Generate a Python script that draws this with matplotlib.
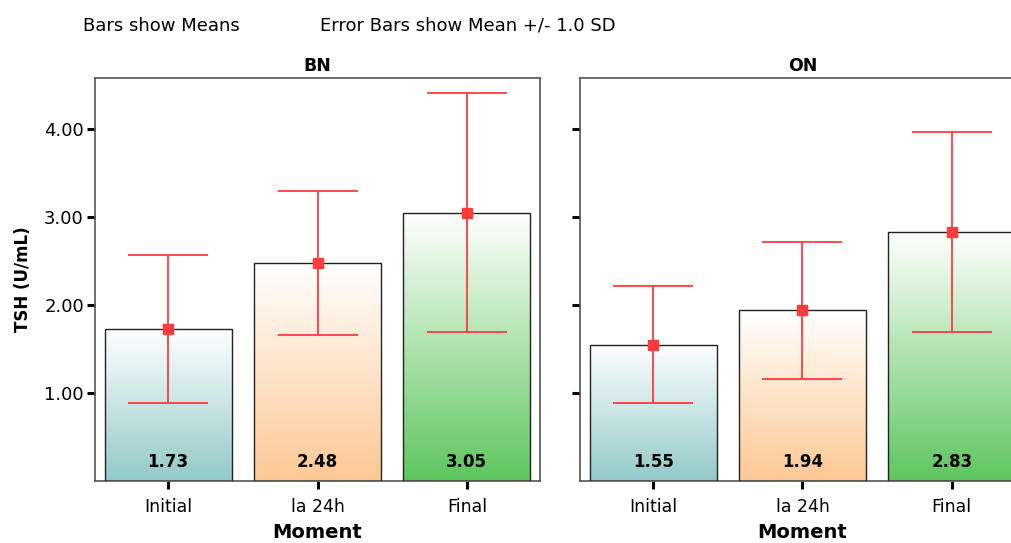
import numpy as np
import matplotlib
matplotlib.use("Agg")
import matplotlib.pyplot as plt
from matplotlib.colors import LinearSegmentedColormap

plt.rcParams['font.family'] = ['DejaVu Sans']

# data
moments = ['Initial', 'la 24h', 'Final']
groups = ['BN', 'ON']
means_bn = [1.73, 2.48, 3.05]
means_on = [1.55, 1.94, 2.83]
sd_bn = [0.84, 0.82, 1.36]
sd_on = [0.665, 0.78, 1.14]
bar_colors = ['#93c9c9', '#fdc894', '#5ec65e']

ERR_COLOR = '#ff3b3b'
FRAME_COLOR = '#555555'

fig = plt.figure(figsize=(10.12, 5.43), dpi=100)
ax_bn = fig.add_axes([0.0939, 0.1142, 0.4397, 0.7422])
ax_on = fig.add_axes([0.5731, 0.1142, 0.4397, 0.7422])


def gradient_bar(ax, x, height, color, width=0.85):
    bar = ax.bar(x, height, width=width, color='none', edgecolor='#222222',
                 linewidth=1.0, zorder=3)[0]
    cmap = LinearSegmentedColormap.from_list('g', ['white', color])
    grad = np.linspace(0, 1, 256).reshape(-1, 1)
    im = ax.imshow(grad, cmap=cmap, aspect='auto', origin='upper',
                   extent=[x - width / 2, x + width / 2, 0, height], zorder=2)
    im.set_clip_path(bar)


def draw_panel(ax, title, means, sds, show_labels):
    x = np.arange(len(moments))
    for i in range(len(moments)):
        gradient_bar(ax, x[i], means[i], bar_colors[i])
        ax.text(x[i], 0.22, f'{means[i]:.2f}', ha='center', va='center',
                fontsize=12, fontweight='bold', zorder=5)
    ax.errorbar(x, means, yerr=sds, fmt='s', color=ERR_COLOR, ecolor=ERR_COLOR,
                markersize=7, elinewidth=1.3, capsize=29, capthick=1.3, zorder=4)
    ax.set_xlim(-0.49, 2.49)
    ax.set_ylim(0, 4.58)
    ax.set_xticks(x)
    ax.set_xticklabels(moments, fontsize=12.5)
    ax.set_yticks([1, 2, 3, 4])
    if show_labels:
        ax.set_yticklabels(['1.00', '2.00', '3.00', '4.00'], fontsize=13)
        ax.set_ylabel('TSH (U/mL)', fontsize=12, fontweight='bold', labelpad=9)
    else:
        ax.set_yticklabels([])
    ax.tick_params(axis='both', length=6, width=2.2, color='black')
    ax.tick_params(axis='x', pad=6)
    ax.tick_params(axis='y', pad=2)
    ax.set_xlabel('Moment', fontsize=14, fontweight='bold', labelpad=5)
    ax.set_title(title, fontsize=12.5, fontweight='bold', pad=5)
    for sp in ax.spines.values():
        sp.set_color(FRAME_COLOR)
        sp.set_linewidth(1.2)


draw_panel(ax_bn, 'BN', means_bn, sd_bn, True)
draw_panel(ax_on, 'ON', means_on, sd_on, False)

fig.text(0.082, 0.953, 'Bars show Means', fontsize=13, va='center')
fig.text(0.316, 0.953, 'Error Bars show Mean +/- 1.0 SD', fontsize=13, va='center')

fig.savefig('out.png', dpi=100)
